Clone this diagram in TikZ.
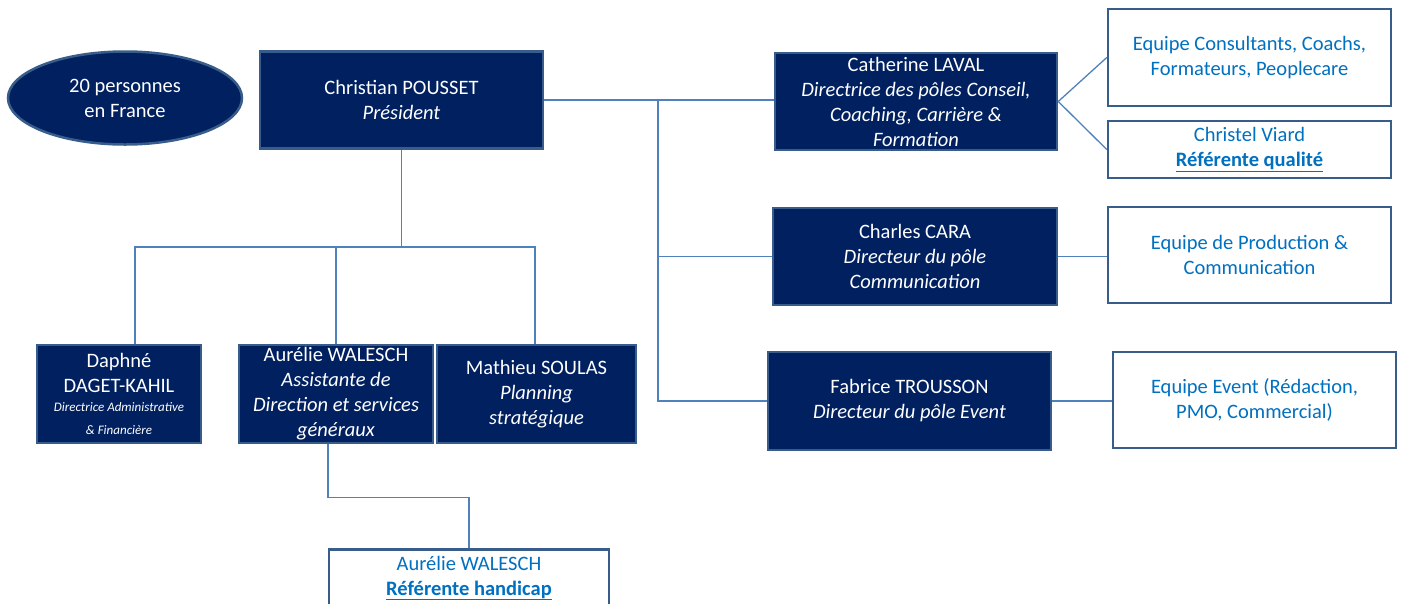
\documentclass[tikz,border=0pt]{standalone}
\usepackage{fontspec}
\setmainfont{Carlito}
\usepackage{tikz}
\usepackage{color}
\definecolor{navy}{RGB}{0,32,96}
\definecolor{frame}{RGB}{56,93,138}
\definecolor{wire}{RGB}{79,129,189}
\definecolor{lightblue}{RGB}{0,112,192}
\usetikzlibrary{shapes.geometric}

\begin{document}
\begin{tikzpicture}[x=1pt,y=1pt,yscale=-1,xscale=1,
  darkbox/.style={draw=frame,line width=2.5pt,fill=navy,text=white,align=center,inner sep=2pt,
    font=\fontsize{20.5}{25}\selectfont},
  whitebox/.style={draw=frame,line width=2.5pt,fill=white,text=lightblue,align=center,inner sep=2pt,
    font=\fontsize{20.5}{25}\selectfont},
  wireline/.style={draw=wire,line width=1.3pt}]
\path[use as bounding box,clip] (0,0) rectangle (1402,603);

%Shape: Ellipse
\node[ellipse,draw=frame,line width=2.5pt,fill=navy,text=white,align=center,
  minimum width=234,minimum height=93,font=\fontsize{20.5}{25}\selectfont] (france) at (125,98) {20 personnes\\en France};

%Shape: Rectangle (top)
\node[darkbox,minimum width=283,minimum height=97] (pres) at (401.5,100) {Christian POUSSET\\\textit{Président}};
\node[darkbox,minimum width=282,minimum height=97] (laval) at (916,101.5) {Catherine LAVAL\\\textit{Directrice des pôles Conseil,}\\\textit{Coaching, Carrière \&}\\\textit{Formation}};
\node[darkbox,minimum width=284,minimum height=97] (cara) at (915,256.5) {Charles CARA\\\textit{Directeur du pôle}\\\textit{Communication}};
\node[darkbox,minimum width=283,minimum height=98] (trousson) at (909.5,401) {Fabrice TROUSSON\\\textit{Directeur du pôle Event}};

%Shape: Rectangle (teams)
\node[whitebox,minimum width=283,minimum height=97] (consult) at (1249.5,57.5) {Equipe Consultants, Coachs,\\Formateurs, Peoplecare};
\node[whitebox,minimum width=283,minimum height=57] (viard) at (1249.5,149.5) {Christel Viard\\\textbf{\underline{Référente qualité}}};
\node[whitebox,minimum width=283,minimum height=96] (prod) at (1249.5,255) {Equipe de Production \&\\Communication};
\node[whitebox,minimum width=283,minimum height=96] (event) at (1254.5,400) {Equipe Event (Rédaction,\\PMO, Commercial)};

%Shape: Rectangle (bottom row)
\node[darkbox,minimum width=164,minimum height=98] (daphne) at (119,394) {Daphné\\DAGET-KAHIL\\[-6pt]\fontsize{13}{16}\selectfont\itshape Directrice Administrative\\[-2pt]\fontsize{13}{16}\selectfont\itshape \& Financière};
\node[darkbox,minimum width=194,minimum height=98] (walesch) at (336,394) {Aurélie WALESCH\\\textit{Assistante de}\\\textit{Direction et services}\\\textit{généraux}};
\node[darkbox,minimum width=199,minimum height=98] (soulas) at (536.5,394) {Mathieu SOULAS\\\textit{Planning}\\\textit{stratégique}};
\node[whitebox,minimum width=280,minimum height=57] (handicap) at (469,578) {Aurélie WALESCH\\\textbf{\underline{Référente handicap}}};

%Straight Lines
\coordinate (busL) at (401.5,247);
\coordinate (busR) at (658,100);
\draw[wireline] (pres.south) -- (busL);
\draw[wireline] ([xshift=16]daphne.north) |- (busL);
\draw[wireline] ([xshift=-1.5]soulas.north) |- (busL);
\draw[wireline] (walesch.north) -- (walesch.north |- busL);
\draw[wireline] (pres.east) -- (busR) -- (busR -| laval.west);
\draw[wireline] (busR) |- (cara.west);
\draw[wireline] (busR) |- (trousson.west);
\draw[wireline] (laval.east) -- (consult.west);
\draw[wireline] (laval.east) -- (viard.west);
\draw[wireline] (cara.east) -- (cara.east -| prod.west);
\draw[wireline] (trousson.east) -- (trousson.east -| event.west);
\draw[wireline] ([xshift=-8]walesch.south) -- ++(0,53) -| (handicap.north);

\end{tikzpicture}
\end{document}
